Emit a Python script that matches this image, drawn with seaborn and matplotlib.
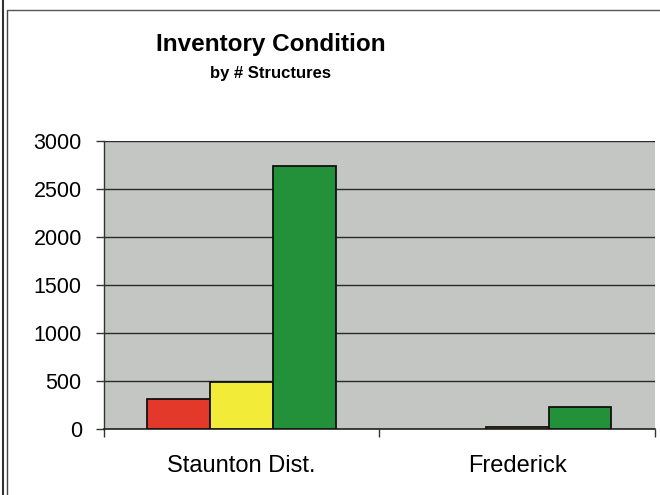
"""
Inventory Condition by # Structures - grouped bar chart
"""

import pandas as pd
import seaborn as sns
import matplotlib.pyplot as plt
from matplotlib import font_manager
from matplotlib.lines import Line2D
from matplotlib.ticker import FixedLocator

# ── Data ───────────────────────────────────────────────────────────────────────
districts  = ["Staunton Dist.", "Frederick"]
conditions = ["Poor", "Fair", "Good"]
poor_vals  = [310, 0]
fair_vals  = [495, 20]
good_vals  = [2745, 232]
colors     = ["#e2392b", "#f2ec38", "#22913a"]
y_ticks    = [0, 500, 1000, 1500, 2000, 2500, 3000]

df = pd.DataFrame({
    "district":  districts * 3,
    "condition": [c for c in conditions for _ in districts],
    "count":     poor_vals + fair_vals + good_vals,
})

# ── Figure ─────────────────────────────────────────────────────────────────────
sns.set_style("white")
plt.rcParams["font.family"] = ["Liberation Sans", "DejaVu Sans"]
for key in ["text.color", "axes.labelcolor", "xtick.color", "ytick.color"]:
    plt.rcParams[key] = "black"

names = {f.name for f in font_manager.fontManager.ttflist}
title_family = ["Liberation Sans Narrow"] if "Liberation Sans Narrow" in names else ["Liberation Sans"]
title_size = 21 if title_family[0].endswith("Narrow") else 17.5

fig = plt.figure(figsize=(6.6, 4.95), dpi=100)
ax = fig.add_axes([0.1576, 0.1333, 0.8344, 0.5817])
ax.set_facecolor("#c3c6c3")

sns.barplot(data=df, x="district", y="count", hue="condition",
            hue_order=conditions, order=districts, palette=colors,
            width=0.686, gap=0, edgecolor="#111111", linewidth=1.3,
            saturation=1, legend=False, ax=ax, zorder=3)

# hide the empty bar outline so it doesn't double the axis line
for patch in ax.patches:
    if patch.get_height() == 0:
        patch.set_visible(False)

# ── Axes styling ───────────────────────────────────────────────────────────────
ax.set_ylim(0, 3000)
ax.set_xlim(-0.5, 1.5)
ax.set_yticks(y_ticks)
ax.yaxis.grid(True, color="#2a2a2a", linewidth=1.0, zorder=0)
ax.set_axisbelow(True)
ax.set_xlabel("")
ax.set_ylabel("")

for side in ["top", "right"]:
    ax.spines[side].set_visible(False)
ax.spines["left"].set_color("#333333")
ax.spines["bottom"].set_color("#222222")
ax.spines["left"].set_linewidth(1.0)
ax.spines["bottom"].set_linewidth(1.2)

ax.tick_params(axis="y", direction="out", length=6, width=1, color="#333333",
               pad=10, labelsize=15.5, left=True)
ax.tick_params(axis="x", which="major", length=0, pad=19, labelsize=17)
ax.xaxis.set_minor_locator(FixedLocator([-0.5, 0.5, 1.5]))
ax.tick_params(axis="x", which="minor", direction="out", length=6, width=1,
               color="#333333", bottom=True)

# ── Titles ─────────────────────────────────────────────────────────────────────
fig.text(0.41, 0.911, "Inventory Condition", ha="center", va="center",
         fontsize=title_size, fontweight="bold", family=title_family)
fig.text(0.41, 0.852, "by # Structures", ha="center", va="center",
         fontsize=12, fontweight="bold")

# ── Chart frame (scan border) ──────────────────────────────────────────────────
fig.add_artist(Line2D([0.005, 0.005], [0, 1], color="#333333", linewidth=1.5))
fig.add_artist(Line2D([0.011, 0.011], [0, 0.98], color="#444444", linewidth=1.0))
fig.add_artist(Line2D([0.011, 1.0], [0.98, 0.98], color="#555555", linewidth=1.0))

fig.savefig("out.png", dpi=100)
